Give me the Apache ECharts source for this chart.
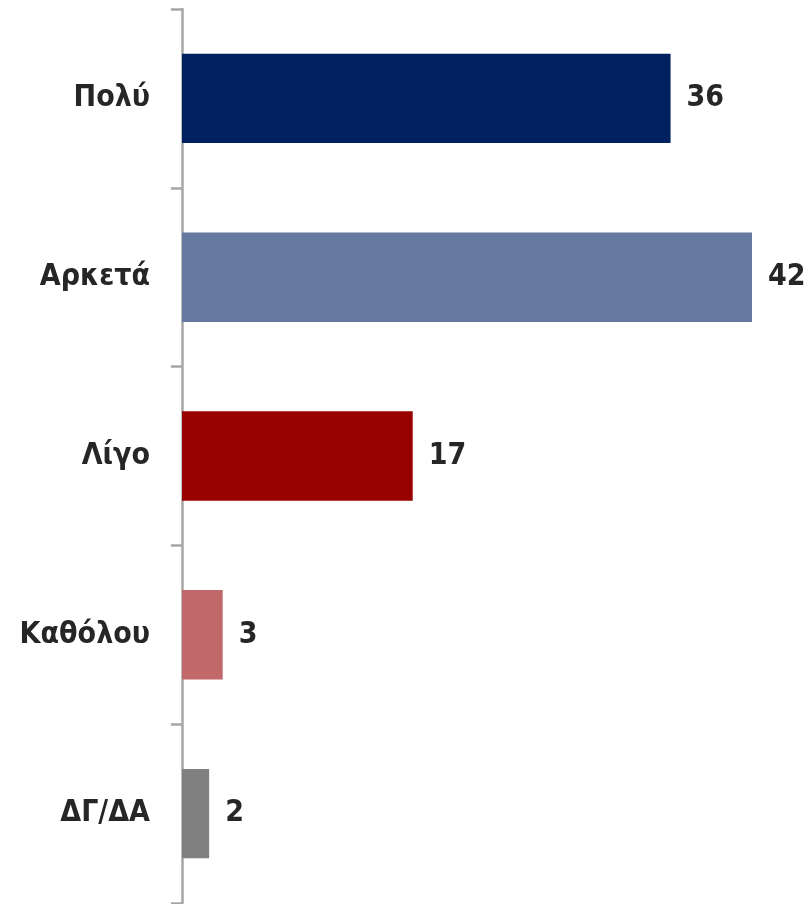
<!DOCTYPE html>
<html>
<head>
<meta charset="utf-8">
<style>
  html, body { margin: 0; padding: 0; background: #fff; }
  #main { width: 808px; height: 904px; }
</style>
<script src="https://cdn.jsdelivr.net/npm/echarts@6/dist/echarts.min.js"></script>
</head>
<body>
<div id="main"></div>
<script>
var categories = ['Πολύ', 'Αρκετά', 'Λίγο', 'Καθόλου', 'ΔΓ/ΔΑ'];
var values = [36, 42, 17, 3, 2];
var barColors = ['#002060', '#667AA0', '#990000', '#C0686A', '#808080'];

var chart = echarts.init(document.getElementById('main'), null, { renderer: 'canvas' });

var font = '"Liberation Sans Narrow", "DejaVu Sans Condensed", "Liberation Sans", Arial, sans-serif';

var option = {
  animation: false,
  grid: {
    left: 182,
    right: 56,
    top: 9,
    bottom: 1,
    containLabel: false
  },
  xAxis: {
    type: 'value',
    min: 0,
    max: 42,
    show: false
  },
  yAxis: {
    type: 'category',
    inverse: true,
    data: categories,
    axisLine: { show: true, lineStyle: { color: '#A6A6A6', width: 2.5 } },
    axisTick: { show: true, length: 11, lineStyle: { color: '#A6A6A6', width: 2.5 } },
    axisLabel: {
      margin: 32,
      color: '#262626',
      fontSize: 30,
      fontWeight: 'bold',
      fontFamily: font
    }
  },
  series: [{
    type: 'bar',
    barWidth: '50%',
    data: values.map(function (v, i) {
      return { value: v, itemStyle: { color: barColors[i] } };
    }),
    label: {
      show: true,
      position: 'right',
      distance: 16,
      color: '#262626',
      fontSize: 30,
      fontWeight: 'bold',
      fontFamily: font
    }
  }]
};

chart.setOption(option);
</script>
</body>
</html>
